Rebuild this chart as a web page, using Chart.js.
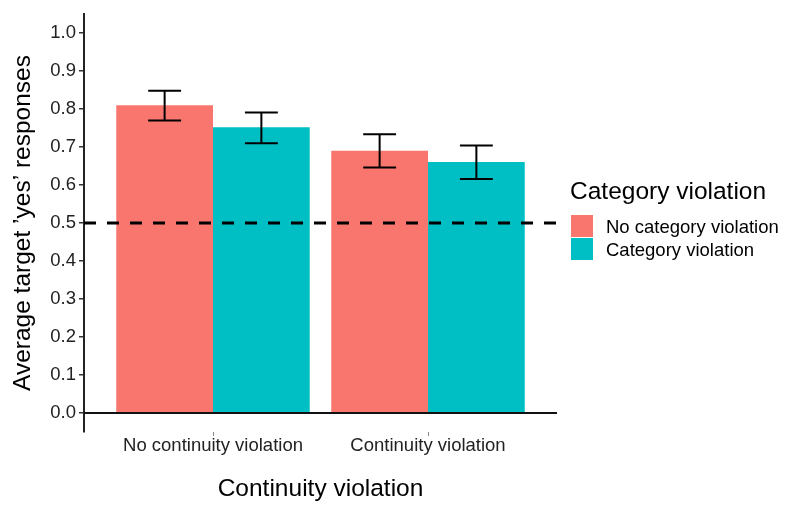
<!DOCTYPE html>
<html>
<head>
<meta charset="utf-8">
<script src="https://cdn.jsdelivr.net/npm/chart.js@4.4.1/dist/chart.umd.min.js"></script>
<style>
  html, body { margin: 0; padding: 0; background: #fff; }
  canvas { display: block; }
</style>
</head>
<body>
<canvas id="barChart" width="787" height="508"></canvas>
<script>
// values
const continuityGroups = ['No continuity violation', 'Continuity violation'];
const seriesNames = ['No category violation', 'Category violation'];
const noCategoryMeans = [0.81, 0.69];
const noCategoryLow = [0.77, 0.646];
const noCategoryHigh = [0.848, 0.734];
const categoryMeans = [0.752, 0.661];
const categoryLow = [0.71, 0.616];
const categoryHigh = [0.791, 0.704];
const yTicks = [0, 0.1, 0.2, 0.3, 0.4, 0.5, 0.6, 0.7, 0.8, 0.9, 1.0];
const chanceLevel = 0.5;

const FONT = "'Liberation Sans', Arial, sans-serif";
const seriesColors = ['#F8766D', '#00BFC4'];

const toPoints = vals => vals.map((v, i) => ({ x: i + 1, y: v }));

// dashed chance line, zero line and error bars on top of the bars
const overlays = {
    id: 'overlays',
    afterDatasetsDraw(chart) {
        const { ctx, chartArea, scales: { y } } = chart;
        ctx.save();

        const yc = y.getPixelForValue(chanceLevel);
        ctx.strokeStyle = '#000';
        ctx.lineWidth = 3;
        ctx.setLineDash([12, 11]);
        ctx.beginPath();
        ctx.moveTo(chartArea.left, yc);
        ctx.lineTo(chartArea.right, yc);
        ctx.stroke();
        ctx.setLineDash([]);

        const y0 = y.getPixelForValue(0);
        ctx.strokeStyle = '#111';
        ctx.lineWidth = 2;
        ctx.beginPath();
        ctx.moveTo(chartArea.left, y0);
        ctx.lineTo(chartArea.right, y0);
        ctx.stroke();

        ctx.strokeStyle = '#000';
        ctx.lineWidth = 2;
        chart.data.datasets.forEach((ds, d) => {
            chart.getDatasetMeta(d).data.forEach((bar, i) => {
                const half = bar.width * 0.17;
                const top = y.getPixelForValue(ds.errHigh[i]);
                const bottom = y.getPixelForValue(ds.errLow[i]);
                ctx.beginPath();
                ctx.moveTo(bar.x - half, top); ctx.lineTo(bar.x + half, top);
                ctx.moveTo(bar.x, top); ctx.lineTo(bar.x, bottom);
                ctx.moveTo(bar.x - half, bottom); ctx.lineTo(bar.x + half, bottom);
                ctx.stroke();
            });
        });
        ctx.restore();
    }
};

// ggplot-style legend to the right of the panel
const sideLegend = {
    id: 'sideLegend',
    afterDraw(chart) {
        const { ctx, chartArea } = chart;
        const left = chartArea.right + 13;
        ctx.save();
        ctx.fillStyle = '#000';
        ctx.textAlign = 'left';
        ctx.textBaseline = 'alphabetic';
        ctx.font = `24.5px ${FONT}`;
        ctx.fillText('Category violation', left, 199);

        ctx.font = `18.5px ${FONT}`;
        chart.data.datasets.forEach((ds, i) => {
            const top = 215 + i * 23;
            ctx.fillStyle = ds.backgroundColor;
            ctx.fillRect(left + 1, top, 22, 22);
            ctx.fillStyle = '#000';
            ctx.fillText(ds.label, left + 36, top + 11 + 6.6);
        });
        ctx.restore();
    }
};

new Chart(document.getElementById('barChart'), {
    type: 'bar',
    data: {
        datasets: [
            {
                label: seriesNames[0],
                data: toPoints(noCategoryMeans),
                errLow: noCategoryLow,
                errHigh: noCategoryHigh,
                backgroundColor: seriesColors[0],
                borderWidth: 0,
                categoryPercentage: 0.9,
                barPercentage: 1.0
            },
            {
                label: seriesNames[1],
                data: toPoints(categoryMeans),
                errLow: categoryLow,
                errHigh: categoryHigh,
                backgroundColor: seriesColors[1],
                borderWidth: 0,
                categoryPercentage: 0.9,
                barPercentage: 1.0
            }
        ]
    },
    options: {
        responsive: false,
        animation: false,
        devicePixelRatio: 1,
        layout: { padding: { top: 8, right: 230, left: 0, bottom: 0 } },
        plugins: {
            legend: { display: false },
            tooltip: { enabled: false }
        },
        scales: {
            x: {
                type: 'linear',
                min: 0.4,
                max: 2.6,
                offset: false,
                afterBuildTicks: s => { s.ticks = continuityGroups.map((_, i) => ({ value: i + 1 })); },
                afterFit: s => { s.height = 76; },
                grid: { offset: false, drawOnChartArea: false, drawTicks: true, tickLength: 4, color: '#888', lineWidth: 1 },
                border: { display: false },
                ticks: {
                    autoSkip: false,
                    maxRotation: 0,
                    padding: 1,
                    color: '#222',
                    font: { family: FONT, size: 18.5, lineHeight: 1.0 },
                    callback: (v, i) => continuityGroups[i]
                },
                title: {
                    display: true,
                    text: 'Continuity violation',
                    color: '#000',
                    font: { family: FONT, size: 24.5 },
                    padding: { top: 0, bottom: 4 }
                }
            },
            y: {
                min: -0.05,
                max: 1.05,
                afterBuildTicks: s => { s.ticks = yTicks.map(v => ({ value: v })); },
                afterFit: s => { s.width = 84; },
                grid: { drawOnChartArea: false, drawTicks: true, tickLength: 5, color: '#333', lineWidth: 1.5 },
                border: { display: true, color: '#222', width: 2 },
                ticks: {
                    padding: 3,
                    color: '#222',
                    font: { family: FONT, size: 18.5 },
                    callback: v => v.toFixed(1)
                },
                title: {
                    display: true,
                    text: 'Average target ’yes’ responses',
                    color: '#000',
                    font: { family: FONT, size: 24.5 },
                    padding: { top: 9, bottom: 0 }
                }
            }
        }
    },
    plugins: [overlays, sideLegend]
});
</script>
</body>
</html>
